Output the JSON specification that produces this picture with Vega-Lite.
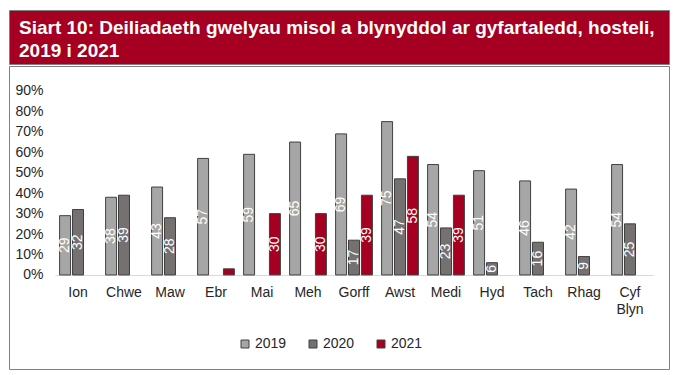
{
  "$schema": "https://vega.github.io/schema/vega-lite/v6.json",
  "padding": {"left": 8, "top": 9, "right": 9, "bottom": 8},
  "background": "white",
  "spacing": 0,
  "config": {"font": "Liberation Sans"},
  "vconcat": [
    {
      "width": 660,
      "height": 54,
      "view": {"fill": "#A50021", "stroke": "#808080", "strokeWidth": 1},
      "title": {
        "text": ["Siart 10: Deiliadaeth gwelyau misol a blynyddol ar gyfartaledd, hosteli,", "2019 i 2021"],
        "anchor": "start",
        "frame": "group",
        "orient": "top",
        "offset": -51,
        "dx": 10,
        "color": "white",
        "fontSize": 19,
        "fontWeight": "bold",
        "lineHeight": 23,
        "font": "Liberation Sans"
      },
      "data": {"values": []},
      "mark": "point",
      "encoding": {}
    },
    {
      "width": 660,
      "height": 303,
      "view": {"stroke": "#808080", "strokeWidth": 1, "fill": "white"},
      "data": {
        "values": [
          {"month": "Ion", "year": "2019", "value": 29},
          {"month": "Ion", "year": "2020", "value": 32},
          {"month": "Chwe", "year": "2019", "value": 38},
          {"month": "Chwe", "year": "2020", "value": 39},
          {"month": "Maw", "year": "2019", "value": 43},
          {"month": "Maw", "year": "2020", "value": 28},
          {"month": "Ebr", "year": "2019", "value": 57},
          {"month": "Ebr", "year": "2021", "value": 3},
          {"month": "Mai", "year": "2019", "value": 59},
          {"month": "Mai", "year": "2021", "value": 30},
          {"month": "Meh", "year": "2019", "value": 65},
          {"month": "Meh", "year": "2021", "value": 30},
          {"month": "Gorff", "year": "2019", "value": 69},
          {"month": "Gorff", "year": "2020", "value": 17},
          {"month": "Gorff", "year": "2021", "value": 39},
          {"month": "Awst", "year": "2019", "value": 75},
          {"month": "Awst", "year": "2020", "value": 47},
          {"month": "Awst", "year": "2021", "value": 58},
          {"month": "Medi", "year": "2019", "value": 54},
          {"month": "Medi", "year": "2020", "value": 23},
          {"month": "Medi", "year": "2021", "value": 39},
          {"month": "Hyd", "year": "2019", "value": 51},
          {"month": "Hyd", "year": "2020", "value": 6},
          {"month": "Tach", "year": "2019", "value": 46},
          {"month": "Tach", "year": "2020", "value": 16},
          {"month": "Rhag", "year": "2019", "value": 42},
          {"month": "Rhag", "year": "2020", "value": 9},
          {"month": "Cyf Blyn", "year": "2019", "value": 54},
          {"month": "Cyf Blyn", "year": "2020", "value": 25}
        ]
      },
      "encoding": {
        "x": {
          "field": "month",
          "type": "nominal",
          "sort": ["Ion", "Chwe", "Maw", "Ebr", "Mai", "Meh", "Gorff", "Awst", "Medi", "Hyd", "Tach", "Rhag", "Cyf Blyn"],
          "scale": {"range": [46, 644], "paddingInner": 0.2, "paddingOuter": 0.1},
          "axis": {
            "title": null,
            "labelAngle": 0,
            "offset": -94,
            "ticks": false,
            "domainColor": "#D9D9D9",
            "domainWidth": 1,
            "labelFontSize": 14,
            "labelColor": "#262626",
            "labelPadding": 10,
            "labelExpr": "split(datum.label, ' ')",
            "labelLineHeight": 17
          }
        },
        "xOffset": {
          "field": "year",
          "type": "nominal",
          "scale": {"domain": ["2019", "2020", "2021"], "paddingInner": 0.15, "paddingOuter": 0}
        }
      },
      "layer": [
        {
          "mark": {"type": "bar", "stroke": "#404040", "strokeWidth": 1},
          "encoding": {
            "y": {
              "field": "value",
              "type": "quantitative",
              "scale": {"domain": [-46, 102.2], "nice": false, "zero": false},
              "axis": {
                "title": null,
                "values": [0, 10, 20, 30, 40, 50, 60, 70, 80, 90],
                "labelExpr": "datum.value + '%'",
                "offset": -45,
                "domain": false,
                "ticks": false,
                "grid": false,
                "labelFontSize": 14,
                "labelColor": "#262626",
                "labelPadding": 11
              }
            },
            "color": {
              "field": "year",
              "type": "nominal",
              "scale": {"domain": ["2019", "2020", "2021"], "range": ["#A6A6A6", "#767171", "#A50021"]},
              "legend": {
                "orient": "none",
                "legendX": 229,
                "legendY": 327,
                "direction": "horizontal",
                "title": null,
                "symbolType": "square",
                "symbolSize": 64,
                "symbolStrokeColor": "#404040",
                "symbolStrokeWidth": 1,
                "labelFontSize": 14,
                "labelColor": "#262626",
                "labelOffset": 3,
                "columnPadding": 19
              }
            }
          }
        },
        {
          "transform": [{"filter": "datum.value >= 5"}],
          "mark": {"type": "text", "angle": 270, "color": "white", "fontSize": 14, "align": "center", "baseline": "middle"},
          "encoding": {
            "y": {
              "field": "value",
              "type": "quantitative",
              "scale": {"domain": [-92, 204.4], "nice": false, "zero": false},
              "axis": null
            },
            "text": {"field": "value", "type": "quantitative"}
          }
        }
      ],
      "resolve": {"scale": {"y": "independent"}}
    }
  ]
}
